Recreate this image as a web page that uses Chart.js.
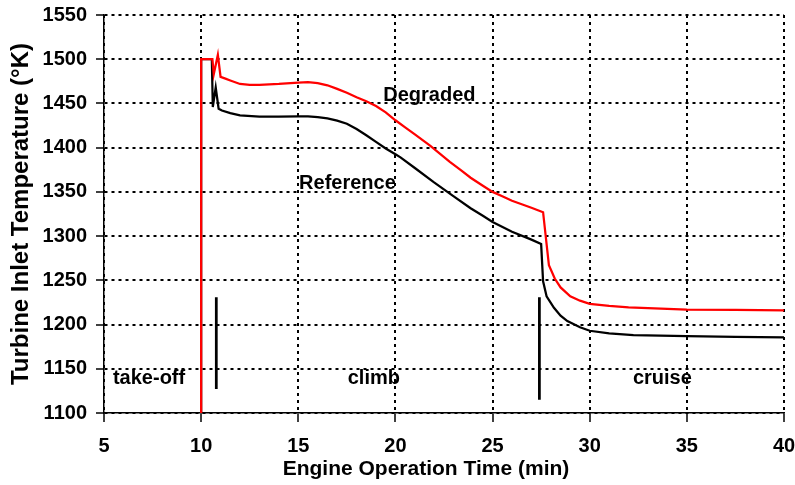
<!DOCTYPE html>
<html>
<head>
<meta charset="utf-8">
<script src="https://cdn.jsdelivr.net/npm/chart.js@4.4.0/dist/chart.umd.min.js"></script>
<style>
    html, body { margin: 0; padding: 0; background: #fff; }
    #wrap { width: 795px; height: 485px; position: relative; }
</style>
</head>
<body>
<div id="wrap"><canvas id="tempChart"></canvas></div>
<script>
// Degraded engine - turbine inlet temperature (K) vs time (min)
const degradedTime = [10, 10, 10.58, 10.65, 10.86, 11.0, 11.25, 11.5, 12, 12.5, 13, 14, 15, 15.5, 16, 16.5, 17, 17.5, 18, 18.5, 19, 19.5, 20, 20.5, 21, 21.8, 22.3, 22.8, 23.4, 23.87, 24.5, 25, 25.5, 26, 26.5, 27, 27.6, 27.9, 28.2, 28.5, 29, 29.5, 30, 31, 32, 33, 35, 37.5, 40];
const degradedTemp = [1100, 1500, 1500, 1483, 1505, 1480, 1478, 1476, 1472, 1471, 1471, 1472, 1473.5, 1474, 1473, 1470.5, 1466.5, 1462, 1457, 1452.5, 1447, 1440, 1431, 1423, 1415, 1402, 1393, 1384, 1374, 1366, 1357, 1350, 1345, 1340, 1336, 1332, 1327, 1267, 1252, 1242, 1232, 1227, 1223.5, 1221, 1219.5, 1218.5, 1217, 1216.5, 1216];

// Reference engine
const referenceTime = [10, 10, 10.55, 10.6, 10.75, 10.9, 11.07, 11.5, 12, 13, 14, 15, 15.5, 16, 16.5, 17, 17.5, 18, 18.5, 19, 19.5, 20, 20.26, 21, 21.97, 23, 23.87, 24.5, 25, 26, 27, 27.5, 27.6, 27.78, 28.16, 28.5, 28.85, 29.5, 30, 31, 32.25, 35, 37.5, 40];
const referenceTemp = [1100, 1500, 1500, 1446, 1468, 1444, 1442, 1439, 1436.5, 1435, 1435, 1435.5, 1435.5, 1434.5, 1433, 1430.5, 1427, 1421, 1414, 1406.5, 1399, 1392.5, 1389, 1377, 1361, 1345, 1331.5, 1323, 1316, 1305, 1296, 1291, 1249, 1232, 1219, 1210, 1204, 1197, 1193, 1190, 1188, 1187, 1186, 1185.5];

// phase separators (take-off | climb | cruise)
const phaseMarkX = [10.78, 27.41];
const phaseMarkTop = [1231, 1231];
const phaseMarkBottom = [1127, 1115];

const xTicks = [5, 10, 15, 20, 25, 30, 35, 40];
const yTicks = [1100, 1150, 1200, 1250, 1300, 1350, 1400, 1450, 1500, 1550];

// text labels inside the plot, in data units
const noteText = ['Degraded', 'Reference', 'take-off', 'climb', 'cruise'];
const noteX = [21.75, 17.53, 7.32, 18.89, 33.74];
const noteY = [1459, 1360, 1139, 1139, 1139];

const FONT = "'Liberation Sans', Arial, sans-serif";

function toPoints(xs, ys) {
    return xs.map((x, i) => ({ x: x, y: ys[i] }));
}

const datasets = [
    {
        label: 'Degraded',
        data: toPoints(degradedTime, degradedTemp),
        borderColor: '#ff0000',
        borderWidth: 2.25,
        order: 1
    },
    {
        label: 'Reference',
        data: toPoints(referenceTime, referenceTemp),
        borderColor: '#000000',
        borderWidth: 2.25,
        order: 2
    }
];
phaseMarkX.forEach((x, i) => {
    datasets.push({
        label: 'phase' + i,
        data: [{ x: x, y: phaseMarkTop[i] }, { x: x, y: phaseMarkBottom[i] }],
        borderColor: '#000000',
        borderWidth: 2.75,
        order: 3
    });
});

// draws the in-plot notes and the x axis title
const notesPlugin = {
    id: 'notes',
    afterDatasetsDraw(chart) {
        const ctx = chart.ctx;
        const xs = chart.scales.x, ys = chart.scales.y;
        ctx.save();
        ctx.fillStyle = '#000';
        ctx.font = 'bold 20px ' + FONT;
        ctx.textAlign = 'center';
        ctx.textBaseline = 'middle';
        noteText.forEach((t, i) => {
            ctx.fillText(t, xs.getPixelForValue(noteX[i]), ys.getPixelForValue(noteY[i]));
        });
        ctx.font = 'bold 21px ' + FONT;
        const area = chart.chartArea;
        ctx.fillText('Engine Operation Time (min)', (area.left + area.right) / 2 - 18, 469);
        ctx.restore();
    }
};

const ctx = document.getElementById('tempChart').getContext('2d');
new Chart(ctx, {
    type: 'line',
    data: { datasets: datasets },
    plugins: [notesPlugin],
    options: {
        responsive: true,
        maintainAspectRatio: false,
        animation: false,
        layout: { padding: { top: 15, right: 11, left: 0, bottom: 0 } },
        elements: {
            point: { radius: 0 },
            line: { tension: 0, fill: false }
        },
        plugins: {
            legend: { display: false },
            tooltip: { enabled: false }
        },
        scales: {
            x: {
                type: 'linear',
                min: xTicks[0],
                max: xTicks[xTicks.length - 1],
                afterFit: function (scale) {
                    scale.height = 72;
                    scale.paddingLeft = 0;
                    scale.paddingRight = 0;
                },
                afterBuildTicks: function (scale) { scale.ticks = xTicks.map(v => ({ value: v })); },
                ticks: {
                    color: '#000',
                    font: { family: FONT, size: 20, weight: 'bold' },
                    padding: 12,
                    maxRotation: 0,
                    callback: v => String(v)
                },
                grid: {
                    color: '#000',
                    lineWidth: 2,
                    tickLength: 9,
                    tickColor: '#000',
                    tickWidth: 1.5
                },
                border: { display: true, color: '#000', width: 1.5, dash: [3, 4] }
            },
            y: {
                min: yTicks[0],
                max: yTicks[yTicks.length - 1],
                afterFit: function (scale) {
                    scale.width = 104;
                    scale.paddingTop = 0;
                    scale.paddingBottom = 0;
                },
                afterBuildTicks: function (scale) { scale.ticks = yTicks.map(v => ({ value: v })); },
                ticks: {
                    color: '#000',
                    font: { family: FONT, size: 20, weight: 'bold' },
                    padding: 9,
                    callback: v => String(v)
                },
                grid: {
                    color: '#000',
                    lineWidth: 2,
                    tickLength: 8,
                    tickColor: '#000',
                    tickWidth: 1.5
                },
                border: { display: true, color: '#000', width: 1.5, dash: [3, 4] },
                title: {
                    display: true,
                    text: 'Turbine Inlet Temperature (°K)',
                    color: '#000',
                    font: { family: FONT, size: 24, weight: 'bold' },
                    padding: { top: 7, bottom: 0 }
                }
            }
        }
    }
});
</script>
</body>
</html>
